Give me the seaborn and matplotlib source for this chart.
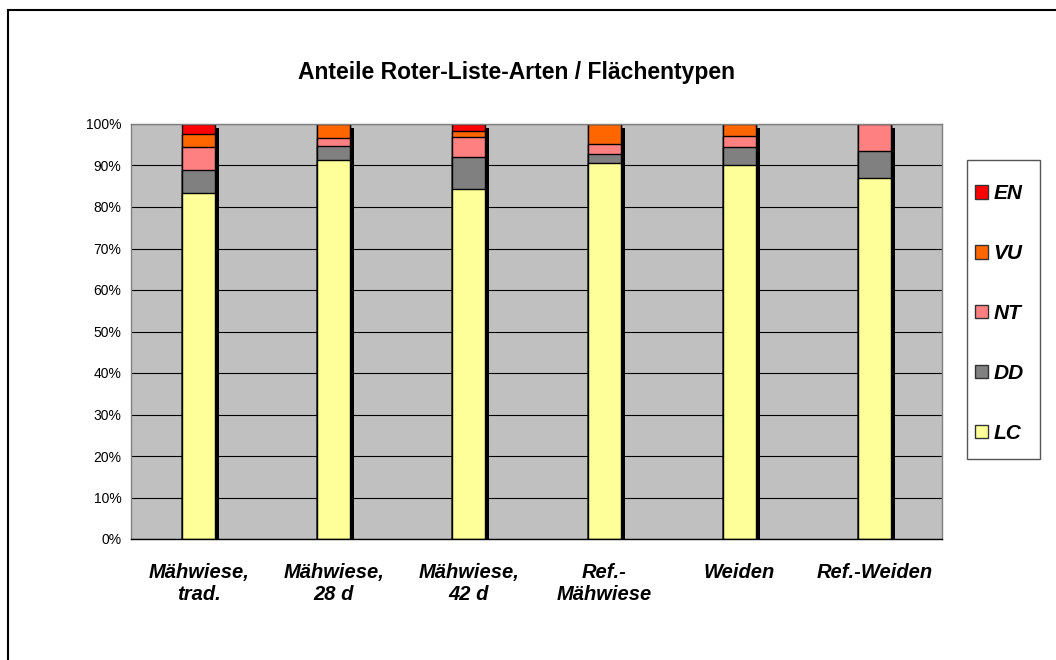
# Anteile Roter-Liste-Arten je Flächentyp - gestapelte 100%-Säulen

import numpy as np
import pandas as pd
import matplotlib
matplotlib.use('Agg')
import matplotlib.pyplot as plt
import matplotlib.transforms as mtransforms
from matplotlib.patches import Patch, Rectangle
import seaborn as sns

# Daten (Prozent)
categories = ['Mähwiese,\ntrad.', 'Mähwiese,\n28 d', 'Mähwiese,\n42 d',
              'Ref.-\nMähwiese', 'Weiden', 'Ref.-Weiden']
lc = [83.4, 91.4, 84.3, 90.5, 90.2, 87.0]
dd = [5.5, 3.4, 7.8, 2.3, 4.2, 6.5]
nt = [5.6, 1.8, 4.7, 2.4, 2.8, 6.5]
vu = [3.2, 3.4, 1.5, 4.8, 2.8, 0.0]
en = [2.3, 0.0, 1.6, 0.0, 0.0, 0.0]

classes = ['LC', 'DD', 'NT', 'VU', 'EN']
colors = {'LC': '#FFFF99', 'DD': '#808080', 'NT': '#FF8080',
          'VU': '#FF6600', 'EN': '#FF0000'}
yticks = np.arange(0, 101, 10)

df = pd.DataFrame({'Fläche': categories, 'LC': lc, 'DD': dd, 'NT': nt,
                   'VU': vu, 'EN': en})
cum = df[classes].cumsum(axis=1)
cum['Fläche'] = df['Fläche']

sns.set_style('white')
plt.rcParams['font.family'] = ['Liberation Sans', 'DejaVu Sans']
plt.rcParams['text.color'] = 'black'
plt.rcParams['xtick.color'] = 'black'
plt.rcParams['ytick.color'] = 'black'

fig = plt.figure(figsize=(10.56, 6.6), dpi=100)
ax = fig.add_axes([131 / 1056, 1 - 539 / 660, (942 - 131) / 1056, (539 - 124) / 660])
ax.set_facecolor('#C0C0C0')

bw = 0.245

# Schatten
sns.barplot(data=cum, x='Fläche', y='EN', color='black', width=bw,
            saturation=1, edgecolor='black', linewidth=0, ax=ax)
shadow = mtransforms.offset_copy(ax.transData, fig=fig, x=4, y=-4, units='dots')
for p in ax.patches:
    p.set_transform(shadow)

# Stapel von oben nach unten zeichnen
for c in reversed(classes):
    sns.barplot(data=cum, x='Fläche', y=c, color=colors[c], width=bw,
                saturation=1, edgecolor='black', linewidth=1.0, ax=ax)

ax.set_xlim(-0.5, len(categories) - 0.5)
ax.set_ylim(0, 100)
ax.set_yticks(yticks)
ax.set_yticklabels([f'{v}%' for v in yticks], fontsize=10)
ax.yaxis.grid(True, color='black', linewidth=0.8)
ax.set_axisbelow(True)

ax.set_xticks(np.arange(-0.5, len(categories)), labels=[''] * (len(categories) + 1))
ax.set_xticks(np.arange(len(categories)), labels=categories, minor=True)
ax.tick_params(axis='x', which='major', direction='out', length=5, width=1)
ax.tick_params(axis='x', which='minor', length=0, pad=17, labelsize=14.5)
for t in ax.get_xticklabels(minor=True):
    t.set_fontweight('bold')
    t.set_fontstyle('italic')
ax.tick_params(axis='y', direction='out', length=4, width=1, pad=3)
ax.set_xlabel('')
ax.set_ylabel('')

for s in ['top', 'right', 'left']:
    ax.spines[s].set_color('#808080')
    ax.spines[s].set_linewidth(1)
ax.spines['bottom'].set_color('black')
ax.spines['bottom'].set_linewidth(1)

fig.text(517 / 1056, 1 - 72 / 660, 'Anteile Roter-Liste-Arten / Flächentypen',
         ha='center', va='center', fontsize=16.5, fontweight='bold')

# Legende mit eigenem Rahmen
handles = [Patch(facecolor=colors[c], edgecolor='#333333', linewidth=1) for c in reversed(classes)]
leg = fig.legend(handles, list(reversed(classes)), loc='upper left',
                 bbox_to_anchor=(967 / 1056, 1 - 176 / 660), frameon=False,
                 handlelength=0.62, handleheight=0.62, handletextpad=0.25,
                 labelspacing=1.96, borderpad=0.4, borderaxespad=0,
                 prop={'size': 15, 'weight': 'bold', 'style': 'italic'})
fig.patches.append(Rectangle((967 / 1056, 1 - 459 / 660), 73 / 1056, 299 / 660,
                             transform=fig.transFigure, fill=False,
                             edgecolor='#555555', linewidth=1))

# Rahmen um das Diagramm
fig.patches.append(Rectangle((8 / 1056, -0.1), 1.2, 1 - 10 / 660 + 0.1,
                             transform=fig.transFigure, fill=False,
                             edgecolor='black', linewidth=1.5))

fig.savefig('out.png', dpi=100)
